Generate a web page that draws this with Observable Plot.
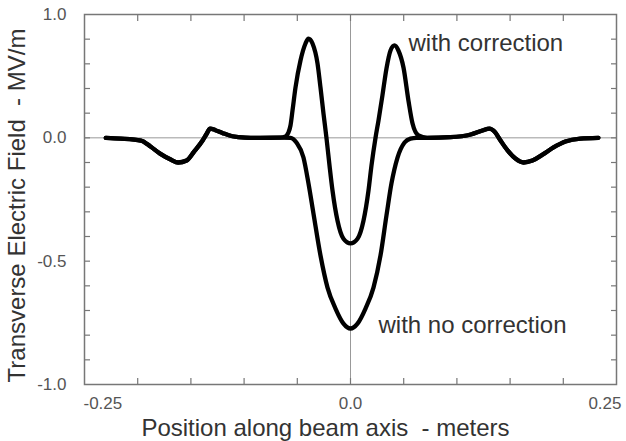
<!DOCTYPE html>
<html><head><meta charset="utf-8">
<script src="https://cdn.jsdelivr.net/npm/d3@7"></script>
<script src="https://cdn.jsdelivr.net/npm/@observablehq/plot@0.6"></script>
<style>
html,body{margin:0;padding:0;background:#fff;}
svg{white-space:pre;}
</style></head><body><div id="chart"></div>
<script>
// Shared outer parts of both curves: [position (m), field (MV/m)]
const outerLeft = [
  [-0.230, 0], [-0.216, -0.003], [-0.197, -0.011], [-0.188, -0.035], [-0.179, -0.064],
  [-0.169, -0.088], [-0.162, -0.100], [-0.154, -0.092], [-0.147, -0.056], [-0.139, -0.011],
  [-0.135, 0.035], [-0.132, 0.075], [-0.127, 0.062], [-0.120, 0.038], [-0.111, 0.013],
  [-0.099, 0.002], [-0.085, 0], [-0.066, 0.002]
];
const outerRight = [
  [0.072, 0], [0.094, 0.005], [0.113, 0.027], [0.124, 0.059], [0.1306, 0.075],
  [0.1353, 0.051], [0.141, -0.011], [0.1476, -0.051], [0.155, -0.084], [0.1626, -0.100],
  [0.171, -0.092], [0.1805, -0.068], [0.1908, -0.039], [0.202, -0.015], [0.216, -0.003],
  [0.233, 0]
];
// Central part, with correction
const withCorrection = [
  [-0.061, 0.012], [-0.0585, 0.04], [-0.0564, 0.10], [-0.0545, 0.221], [-0.0517, 0.408],
  [-0.047, 0.627], [-0.0423, 0.765], [-0.0395, 0.805], [-0.0357, 0.765], [-0.031, 0.603],
  [-0.0282, 0.408], [-0.0254, 0.197], [-0.0226, 0], [-0.0197, -0.113], [-0.0169, -0.214],
  [-0.0122, -0.336], [-0.0066, -0.409], [0, -0.428], [0.0066, -0.409], [0.0122, -0.336],
  [0.0169, -0.214], [0.0197, -0.113], [0.0235, 0], [0.0263, 0.140], [0.030, 0.343],
  [0.0338, 0.562], [0.0376, 0.708], [0.0414, 0.749], [0.045, 0.708], [0.0498, 0.57],
  [0.0545, 0.30], [0.0583, 0.116], [0.0639, 0.019]
];
// Central part, with no correction
const withNoCorrection = [
  [-0.0564, 0], [-0.0508, -0.019], [-0.0442, -0.080], [-0.0395, -0.185], [-0.0348, -0.307],
  [-0.0282, -0.477], [-0.0216, -0.607], [-0.0141, -0.692], [-0.0066, -0.753], [0, -0.773],
  [0.0066, -0.753], [0.0141, -0.692], [0.0216, -0.607], [0.0282, -0.477], [0.0338, -0.315],
  [0.0385, -0.185], [0.0442, -0.080], [0.0508, -0.019], [0.0564, -0.003], [0.062, 0]
];
const seriesNames = ["with correction", "with no correction"];
const annotations = [
  {text: "with correction", x: 0.0545, y: 0.765},
  {text: "with no correction", x: 0.0263, y: -0.761}
];
const xTickValues = [-0.25, 0, 0.25];
const xTickLabels = ["-0.25", "0.0", "0.25"];
const yTickValues = [1, 0, -0.5, -1];
const yTickLabels = ["1.0", "0.0", "-0.5", "-1.0"];
const xMinorTicks = [-0.2, -0.15, -0.1, -0.05, 0, 0.05, 0.1, 0.15, 0.2];
const yMinorTicks = [0.8, 0.6, 0.4, 0.2, 0, -0.1, -0.2, -0.3, -0.4, -0.5, -0.6, -0.7, -0.8, -0.9];
const xLabel = "Position along beam axis  - meters";
const yLabel = "Transverse Electric Field  - MV/m";

const toRows = (pts, name) => pts.map(([x, y]) => ({x, y, series: name}));
const series = [
  ...toRows([...outerLeft, ...withCorrection, ...outerRight], seriesNames[0]),
  ...toRows([...outerLeft, ...withNoCorrection, ...outerRight], seriesNames[1])
];
const xLab = xTickValues.map((v, i) => ({v, label: xTickLabels[i]}));
const yLab = yTickValues.map((v, i) => ({v, label: yTickLabels[i]}));

const tickColor = "#777";
const chart = Plot.plot({
  width: 626, height: 441,
  marginLeft: 84, marginRight: 10, marginTop: 14, marginBottom: 57,
  style: {fontFamily: "'Liberation Sans', Arial, sans-serif", background: "#fff", overflow: "visible"},
  x: {domain: [-0.25, 0.25], axis: null},
  // the upper half of the axis is drawn at half the scale of the lower half (as in the original)
  y: {domain: [-1, 0.5], transform: v => (v > 0 ? v / 2 : v), axis: null},
  marks: [
    Plot.ruleY([0], {stroke: "#999", strokeWidth: 1}),
    Plot.ruleX([0], {stroke: "#999", strokeWidth: 1}),
    Plot.line(series, {x: "x", y: "y", z: "series", stroke: "#000", strokeWidth: 4.3, curve: "monotone-x"}),
    Plot.frame({stroke: tickColor, strokeWidth: 1.5}),
    Plot.axisX(xMinorTicks, {anchor: "bottom", tickSize: -6, tickFormat: () => "", label: null, stroke: tickColor, strokeWidth: 1.2}),
    Plot.axisX(xMinorTicks, {anchor: "top", tickSize: -6, tickFormat: () => "", label: null, stroke: tickColor, strokeWidth: 1.2}),
    Plot.axisY(yMinorTicks, {anchor: "left", tickSize: -6, tickFormat: () => "", label: null, stroke: tickColor, strokeWidth: 1.2}),
    Plot.axisY(yMinorTicks, {anchor: "right", tickSize: -6, tickFormat: () => "", label: null, stroke: tickColor, strokeWidth: 1.2}),
    Plot.text(xLab, {filter: d => d.v < 0, x: "v", text: "label", frameAnchor: "bottom", dy: 24, dx: -1, textAnchor: "start", fontSize: 17, fill: "#555"}),
    Plot.text(xLab, {filter: d => d.v === 0, x: "v", text: "label", frameAnchor: "bottom", dy: 24, textAnchor: "middle", fontSize: 17, fill: "#555"}),
    Plot.text(xLab, {filter: d => d.v > 0, x: "v", text: "label", frameAnchor: "bottom", dy: 24, dx: 5, textAnchor: "end", fontSize: 17, fill: "#555"}),
    Plot.text(yLab, {y: "v", text: "label", frameAnchor: "left", dx: -18, textAnchor: "end", fontSize: 17, fill: "#555"}),
    Plot.text([xLabel], {frameAnchor: "bottom", dy: 51, dx: -25, textAnchor: "middle", fontSize: 24, fill: "#333"}),
    Plot.text([yLabel], {frameAnchor: "left", rotate: -90, dx: -67, dy: 6, textAnchor: "middle", fontSize: 24, fill: "#333"}),
    Plot.text(annotations, {x: "x", y: "y", text: "text", textAnchor: "start", fontSize: 24, fill: "#333"})
  ]
});
document.getElementById("chart").appendChild(chart);
</script>
</body></html>
